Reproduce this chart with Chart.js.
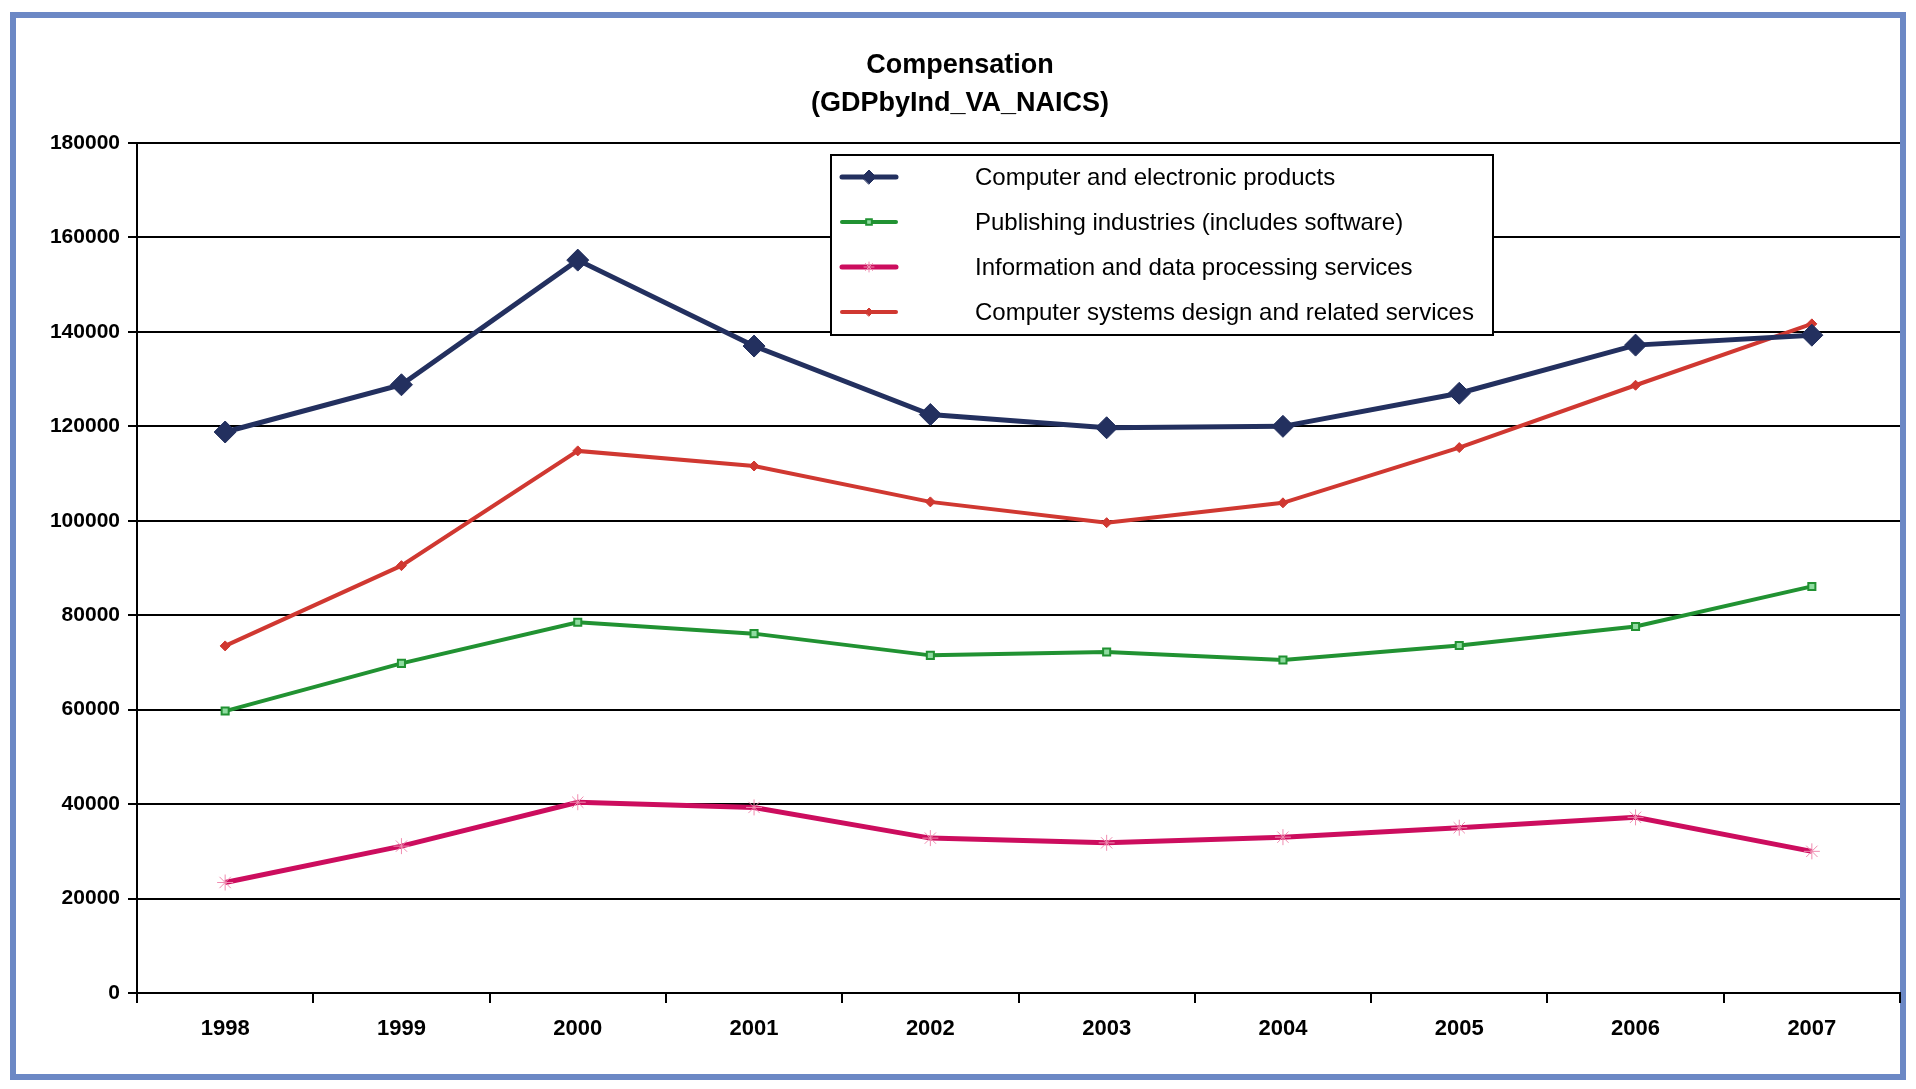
<!DOCTYPE html>
<html>
<head>
<meta charset="utf-8">
<script src="https://cdn.jsdelivr.net/npm/chart.js@4.4.0/dist/chart.umd.min.js"></script>
<style>
html,body{margin:0;padding:0;background:#fff;}
#wrap{position:absolute;left:0;top:0;width:1916px;height:1089px;}
</style>
</head>
<body>
<div id="wrap"><canvas id="c" width="1916" height="1089"></canvas></div>
<script>
const years = ['1998','1999','2000','2001','2002','2003','2004','2005','2006','2007'];
const computerElectronic = [118800, 128800, 155200, 137000, 122500, 119700, 120000, 127000, 137200, 139300];
const publishing = [59700, 69800, 78500, 76100, 71500, 72200, 70500, 73600, 77600, 86100];
const infoData = [23400, 31100, 40400, 39300, 32800, 31800, 33000, 35000, 37200, 30000];
const compSystems = [73500, 90500, 114800, 111600, 104000, 99600, 103800, 115500, 128700, 141700];
const seriesNames = [
  'Computer and electronic products',
  'Publishing industries (includes software)',
  'Information and data processing services',
  'Computer systems design and related services'
];
const titleLines = ['Compensation', '(GDPbyInd_VA_NAICS)'];
const yTicks = [0, 20000, 40000, 60000, 80000, 100000, 120000, 140000, 160000, 180000];

const FONT = '"Liberation Sans", Arial, sans-serif';
const legendRadius = [7, 4, 5, 4];

const framePlugin = {
  id: 'frame',
  beforeDraw(chart) {
    const ctx = chart.ctx;
    ctx.save();
    ctx.fillStyle = '#ffffff';
    ctx.fillRect(0, 0, chart.width, chart.height);
    ctx.strokeStyle = '#6c88c5';
    ctx.lineWidth = 6;
    ctx.strokeRect(13, 15, 1890, 1062);
    ctx.restore();
  },
  afterDraw(chart) {
    const ctx = chart.ctx;
    ctx.save();
    // title
    ctx.fillStyle = '#000';
    ctx.textAlign = 'center';
    ctx.textBaseline = 'middle';
    ctx.font = 'bold 27px ' + FONT;
    ctx.fillText(titleLines[0], 960, 66);
    ctx.fillText(titleLines[1], 960, 104);
    // legend
    const bx = 831, by = 155, bw = 662, bh = 180;
    ctx.fillStyle = '#fff';
    ctx.fillRect(bx, by, bw, bh);
    ctx.strokeStyle = '#000';
    ctx.lineWidth = 2;
    ctx.strokeRect(bx, by, bw, bh);
    ctx.font = '24px ' + FONT;
    ctx.textAlign = 'left';
    chart.data.datasets.forEach((ds, i) => {
      const y = by + 22 + i * 45;
      ctx.strokeStyle = ds.borderColor;
      ctx.lineWidth = ds.borderWidth;
      ctx.lineCap = 'round';
      ctx.beginPath();
      ctx.moveTo(842, y);
      ctx.lineTo(896, y);
      ctx.stroke();
      ctx.fillStyle = ds.pointBackgroundColor;
      ctx.strokeStyle = ds.pointBorderColor;
      ctx.lineWidth = ds.pointBorderWidth;
      Chart.helpers.drawPoint(ctx, {
        pointStyle: ds.pointStyle,
        radius: legendRadius[i],
        borderWidth: ds.pointBorderWidth,
        rotation: 0
      }, 869, y);
      ctx.fillStyle = '#000';
      ctx.fillText(ds.label, 975, y + 1);
    });
    ctx.restore();
  }
};

const chart = new Chart(document.getElementById('c'), {
  type: 'line',
  data: {
    labels: years,
    datasets: [
      {
        label: seriesNames[0], data: computerElectronic,
        borderColor: '#23305f', backgroundColor: '#23305f',
        borderWidth: 5, pointStyle: 'rectRot', pointRadius: 11,
        pointBackgroundColor: '#23305f', pointBorderColor: '#23305f', pointBorderWidth: 1
      },
      {
        label: seriesNames[1], data: publishing,
        borderColor: '#219232', backgroundColor: '#219232',
        borderWidth: 4, pointStyle: 'rect', pointRadius: 5,
        pointBackgroundColor: '#8fdca0', pointBorderColor: '#219232', pointBorderWidth: 2
      },
      {
        label: seriesNames[2], data: infoData,
        borderColor: '#cc0d5e', backgroundColor: '#cc0d5e',
        borderWidth: 5, pointStyle: 'star', pointRadius: 8,
        pointBackgroundColor: '#f08cb0', pointBorderColor: '#f08cb0', pointBorderWidth: 1
      },
      {
        label: seriesNames[3], data: compSystems,
        borderColor: '#d03831', backgroundColor: '#d03831',
        borderWidth: 4, pointStyle: 'rectRot', pointRadius: 5,
        pointBackgroundColor: '#d03831', pointBorderColor: '#d03831', pointBorderWidth: 1
      }
    ]
  },
  options: {
    responsive: false,
    animation: false,
    tension: 0,
    layout: { padding: { left: 0, top: 143, right: 16, bottom: 0 } },
    plugins: { legend: { display: false }, title: { display: false }, tooltip: { enabled: false } },
    scales: {
      x: {
        type: 'category',
        offset: true,
        grid: { display: true, drawOnChartArea: false, drawTicks: true, tickLength: 10, offset: true, color: '#000', lineWidth: 2 },
        border: { display: true, color: '#000', width: 2 },
        ticks: { color: '#000', font: { family: FONT, size: 22, weight: 'bold' }, padding: 13, maxRotation: 0, autoSkip: false },
        afterFit(scale) { scale.height = 96; }
      },
      y: {
        min: 0, max: 180000,
        afterBuildTicks(scale) { scale.ticks = yTicks.map(v => ({ value: v })); },
        grid: { color: '#000', lineWidth: 2, drawTicks: true, tickLength: 9 },
        border: { display: true, color: '#000', width: 2 },
        ticks: { color: '#000', font: { family: FONT, size: 21, weight: 'bold' }, padding: 8, callback: v => String(v) },
        afterFit(scale) { scale.width = 137; }
      }
    }
  },
  plugins: [framePlugin]
});
</script>
</body>
</html>
